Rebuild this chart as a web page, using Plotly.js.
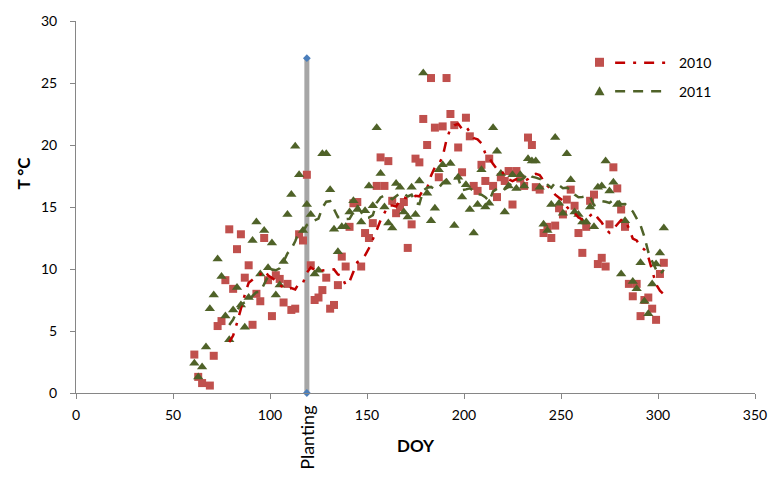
<!DOCTYPE html>
<html><head><meta charset="utf-8">
<script src="https://cdn.plot.ly/plotly-3.0.1.min.js"></script>
<style>html,body{margin:0;padding:0;background:#fff}#chart{width:771px;height:481px}</style>
</head><body><div id="chart"></div>
<script>
const doy2010 = [61,63,65,67,69,71,73,75,77,79,81,83,85,87,89,91,93,95,97,99,101,103,105,107,109,111,113,115,117,119,121,123,125,127,129,131,133,135,137,139,141,143,145,147,149,151,153,155,157,159,161,163,165,167,169,171,173,175,177,179,181,183,185,187,189,191,193,195,197,199,201,203,205,207,209,211,213,215,217,219,221,223,225,227,229,231,233,235,237,239,241,243,245,247,249,251,253,255,257,259,261,263,265,267,269,271,273,275,277,279,281,283,285,287,289,291,293,295,297,299,301,303];
const temp2010 = [3.1,1.3,0.8,-1.3,0.6,3.0,5.4,5.8,9.1,13.2,
  8.4,11.6,12.8,9.3,10.3,5.5,8.0,7.4,12.5,9.1,
  6.2,9.5,9.2,7.3,8.8,6.7,6.8,12.8,12.3,17.6,
  10.3,7.5,7.7,8.3,9.3,6.8,7.1,8.7,11.0,10.2,
  13.4,15.3,15.4,10.2,12.9,12.5,13.7,16.7,19.0,16.7,
  18.7,15.5,14.5,15.0,15.4,11.7,13.6,18.9,18.6,22.1,
  20.0,25.4,21.4,17.4,21.5,25.4,22.5,21.6,19.8,17.8,
  22.2,20.7,16.7,16.3,18.4,17.1,18.9,16.7,15.8,17.4,
  17.1,17.9,15.2,17.9,17.3,16.7,20.6,20.0,16.6,16.4,
  12.9,13.4,12.5,13.5,14.9,14.4,15.6,16.4,15.1,12.9,
  11.3,13.4,15.5,16.0,10.4,10.9,10.2,13.6,18.2,16.5,
  14.8,13.4,8.8,7.8,8.8,6.2,7.5,7.7,6.8,5.9,
  9.6,10.5];
const doy2011 = [61,63,65,67,69,71,73,75,77,79,81,83,85,87,89,91,93,95,97,99,101,103,105,107,109,111,113,115,117,119,121,123,125,127,129,131,133,135,137,139,141,143,145,147,149,151,153,155,157,159,161,163,165,167,169,171,173,175,177,179,181,183,185,187,189,191,193,195,197,199,201,203,205,207,209,211,213,215,217,219,221,223,225,227,229,231,233,235,237,239,241,243,245,247,249,251,253,255,257,259,261,263,265,267,269,271,273,275,277,279,281,283,287,289,291,293,295,297,299,301,303];
const temp2011 = [2.4,1.3,2.1,3.7,6.8,7.9,10.8,9.4,6.2,4.3,
  6.7,8.5,7.1,5.3,7.7,12.3,13.8,9.6,13.1,10.1,
  12.1,7.9,8.7,10.6,14.4,16.0,19.9,17.6,13.1,15.2,
  14.4,9.6,9.9,19.3,19.3,16.4,13.2,11.4,13.4,13.4,
  14.6,15.5,14.8,13.8,14.7,16.7,15.1,21.4,17.7,15.0,
  13.7,13.3,16.9,16.6,14.6,14.2,16.6,14.4,17.1,25.8,
  16.1,13.9,14.9,18.0,18.4,17.0,18.5,13.5,17.4,15.8,
  16.8,14.8,12.9,15.2,18.0,15.0,15.3,21.4,19.5,17.7,
  14.6,16.7,17.6,16.5,17.6,16.7,18.9,18.7,18.7,16.6,
  13.6,13.1,15.2,20.6,15.3,14.5,19.3,17.2,14.6,14.4,
  13.8,13.8,15.0,13.4,16.6,16.7,18.7,16.3,17.0,15.2,
  9.6,13.9,
  9.0,8.4,10.5,7.4,6.4,8.8,10.4,11.3,13.3];
const seriesNames = ['2010','2011'];
const plantingDoy = [119,119];
const plantingT = [0,27];
const plantingLabel = 'Planting';
const xTickVals = [0,50,100,150,200,250,300,350];
const yTickVals = [0,5,10,15,20,25,30];
const maPeriod = 10;

function movingAverage(x, y, n){
  const ox=[], oy=[];
  for(let i=n-1;i<y.length;i++){
    let s=0; for(let k=i-n+1;k<=i;k++) s+=y[k];
    ox.push(x[i]); oy.push(s/n);
  }
  return {x:ox,y:oy};
}
const ma2010 = movingAverage(doy2010,temp2010,maPeriod);
const ma2011 = movingAverage(doy2011,temp2011,maPeriod);

const RED_M='#C0504D', RED_L='#C00000', GRN='#4F6228', FONT='Lato, "Open Sans", sans-serif';

const traces = [
  {x:plantingDoy,y:plantingT,mode:'lines+markers',line:{color:'#A6A6A6',width:5},
   marker:{symbol:'diamond',size:6,color:'#4A7EBB'},cliponaxis:false,showlegend:false,hoverinfo:'skip'},
  {x:doy2010,y:temp2010,mode:'markers',name:seriesNames[0],marker:{symbol:'square',size:8,color:RED_M},showlegend:false},
  {x:doy2011,y:temp2011,mode:'markers',name:seriesNames[1],marker:{symbol:'triangle-up',size:9,color:GRN},showlegend:false},
  {x:ma2010.x,y:ma2010.y,mode:'lines',line:{color:RED_L,width:2.5,dash:'10px,8px,3px,8px'},showlegend:false},
  {x:ma2011.x,y:ma2011.y,mode:'lines',line:{color:GRN,width:2.5,dash:'10px,8px'},showlegend:false}
];

const axisCommon = {showgrid:false,zeroline:false,showline:true,linecolor:'#868686',linewidth:1,
  ticks:'outside',ticklen:5,tickcolor:'#868686',tickfont:{family:FONT,size:14,color:'#000'}};

const layout = {
  width:771,height:481,margin:{l:76,r:16,t:21,b:88},
  paper_bgcolor:'#fff',plot_bgcolor:'#fff',showlegend:false,
  xaxis:Object.assign({},axisCommon,{range:[0,350],tickvals:xTickVals,ticklabelstandoff:4,
    title:{text:'<b>DOY</b>',font:{family:FONT,size:17,color:'#000'},standoff:18}}),
  yaxis:Object.assign({},axisCommon,{range:[0,30],tickvals:yTickVals,ticklabelstandoff:10}),
  annotations:[
    {xref:'paper',yref:'paper',x:-0.078,y:0.59,text:'<b>T °C</b>',textangle:-90,showarrow:false,
     font:{family:FONT,size:17,color:'#000'},xanchor:'center',yanchor:'middle'},
    {xref:'x',yref:'paper',x:plantingDoy[0],y:0,yshift:-11,text:plantingLabel,textangle:-90,showarrow:false,
     font:{family:FONT,size:18,color:'#000'},xanchor:'center',yanchor:'top'},
    {xref:'paper',yref:'paper',x:0.885,y:0.889,text:seriesNames[0],showarrow:false,xanchor:'left',yanchor:'middle',
     font:{family:FONT,size:14,color:'#000'}},
    {xref:'paper',yref:'paper',x:0.885,y:0.811,text:seriesNames[1],showarrow:false,xanchor:'left',yanchor:'middle',
     font:{family:FONT,size:14,color:'#000'}}
  ],
  shapes:[
    {type:'rect',xref:'paper',yref:'paper',xsizemode:'pixel',ysizemode:'pixel',xanchor:0.771,yanchor:0.889,
     x0:-4.5,x1:4.5,y0:-4.5,y1:4.5,fillcolor:RED_M,line:{width:0}},
    {type:'line',xref:'paper',yref:'paper',x0:0.794,x1:0.870,y0:0.888,y1:0.888,line:{color:RED_L,width:2.5,dash:'10px,8px,3px,8px'}},
    {type:'path',xref:'paper',yref:'paper',xsizemode:'pixel',ysizemode:'pixel',xanchor:0.771,yanchor:0.811,
     path:'M -5,-4 L 5,-4 L 0,5 Z',fillcolor:GRN,line:{width:0}},
    {type:'line',xref:'paper',yref:'paper',x0:0.794,x1:0.870,y0:0.811,y1:0.811,line:{color:GRN,width:2.5,dash:'10px,8px'}}
  ]
};
Plotly.newPlot('chart',traces,layout,{staticPlot:true,displayModeBar:false});
</script></body></html>
